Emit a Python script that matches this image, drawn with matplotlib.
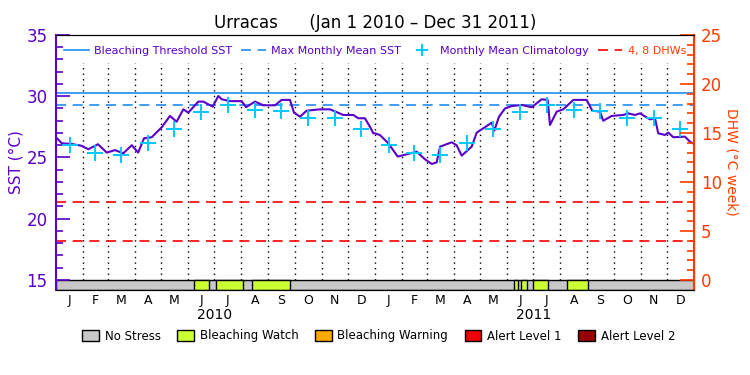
import numpy as np
import matplotlib
matplotlib.use('Agg')
import matplotlib.pyplot as plt
from matplotlib.lines import Line2D
from matplotlib.patches import Patch

# days since Jan 1 2010 and SST (deg C)
sst_day = [0, 6.5, 18, 29, 37, 48, 58, 67.5, 77, 86.6, 94, 100.7, 109.5, 121, 130.4, 138,
           145.7, 151.4, 162.8, 168.5, 179.3, 185.7, 189.6, 199, 212.5, 217.4, 227.7, 237.2,
           250.6, 258.2, 267.7, 272.3, 279.2, 286.8, 302, 313.5, 328.7, 340.2, 345.9, 353.5,
           359.3, 363, 365, 370.7, 380.2, 391, 403, 412.7, 422.2, 429.9, 435.6, 439.4, 452.7,
           458.4, 464.2, 475.6, 481.4, 490.8, 498.5, 501.5, 506.9, 513.7, 521.4, 532.8, 544.3,
           555.7, 562.6, 565.2, 572.9, 580.4, 591.9, 607.2, 613.6, 622.4, 626.2, 635.8, 649.1,
           654.8, 662.5, 668.2, 679.6, 685.4, 689.1, 696.8, 700.6, 706.3, 719.7, 725.4, 730]
sst = [26.65, 26.16, 26.1, 25.96, 25.67, 26.08, 25.4, 25.6, 25.34, 26.0, 25.4, 26.57, 26.65,
       27.47, 28.39, 27.92, 28.93, 28.66, 29.56, 29.56, 29.15, 30.02, 29.75, 29.6, 29.6, 29.1,
       29.56, 29.26, 29.26, 29.7, 29.7, 28.66, 28.33, 28.82, 28.93, 28.93, 28.47, 28.47, 28.2,
       28.2, 27.5, 26.97, 26.97, 26.83, 26.16, 25.07, 25.29, 25.47, 24.85, 24.47, 24.6, 25.88,
       26.24, 26.0, 25.15, 25.88, 27.03, 27.47, 27.84, 27.19, 28.33, 29.0, 29.2, 29.29, 29.1,
       29.75, 29.7, 27.65, 28.74, 28.93, 29.7, 29.7, 28.82, 28.74, 28.0, 28.39, 28.47, 28.6,
       28.47, 28.6, 28.11, 28.2, 26.97, 26.84, 27.03, 26.65, 26.7, 26.29, 26.1]

clim = [26.0, 25.4, 25.2, 26.2, 27.3, 28.7, 29.26, 28.85, 28.8, 28.25, 28.2, 27.3]
mmm = 29.26
threshold = 30.26
dhw_lines = [4, 8]

# bleaching watch periods (start day, end day)
watch = [(158.2, 175.1), (182.7, 214.3), (223.9, 268.2),
         (524.6, 528.6), (531.5, 538.9), (545.8, 562.9), (585.2, 609.3)]

months = ['J', 'F', 'M', 'A', 'M', 'J', 'J', 'A', 'S', 'O', 'N', 'D']
years = ['2010', '2011']

purple = '#5a00c8'
orange = '#ff3c00'
blue = '#1e8cf0'
cyan = '#00c8ff'

edges = np.arange('2010-01', '2012-02', dtype='datetime64[M]').astype('datetime64[D]')
edges = (edges - np.datetime64('2010-01-01')).astype(float)
mids = (edges[:-1] + edges[1:]) / 2

fig = plt.figure(figsize=(7.5, 3.75), dpi=100)
ax = fig.add_axes([0.0747, 0.2267, 0.8506, 0.68])
ylo = 14.18
ax.set_xlim(0, 730)
ax.set_ylim(ylo, 35)

# month lines
ax.vlines(edges[1:-1], 15, 32.7, colors='black', linestyles=(0, (1, 3)), linewidth=1)

ax.axhline(threshold, color=blue, lw=1.2)
ax.axhline(mmm, color=blue, lw=1.2, ls=(0, (6, 4)))
for d in dhw_lines:
    ax.axhline(15 + d / 1.25, color='red', lw=1.2, ls=(0, (6, 4)))

ax.plot(sst_day, sst, color=purple, lw=1.5)
ax.plot(mids, clim * 2, ls='none', marker='+', ms=11, mew=1.4, color=cyan)

# status bar
ax.broken_barh([(0, 730)], (ylo, 15 - ylo), facecolor='#c8c8c8', edgecolor='black', lw=1)
ax.broken_barh([(a, b - a) for a, b in watch], (ylo, 15 - ylo),
               facecolor='#ccff33', edgecolor='black', lw=1)

ax.set_xticks([])
ax.set_xticks(mids, minor=True)
ax.set_xticklabels(months * 2, minor=True, fontsize=9)
ax.tick_params(axis='x', which='minor', length=0, pad=3)
for i, y in enumerate(years):
    ax.text(mids[12 * i + 6] - 15, -0.1, y, transform=ax.get_xaxis_transform(),
            ha='center', va='center', fontsize=10)

ax.set_yticks([15, 20, 25, 30, 35])
ax.set_yticks(np.arange(15, 36, 1), minor=True)
ax.tick_params(axis='y', which='major', direction='in', length=10, width=1.2,
               colors=purple, labelsize=12, pad=6)
ax.tick_params(axis='y', which='minor', direction='in', length=5, width=1.2, colors=purple)
ax.spines['left'].set_color(purple)
ax.spines['left'].set_linewidth(1.5)
ax.set_ylabel('SST (°C)', color=purple, fontsize=11, labelpad=2)

ax2 = ax.twinx()
ax2.set_ylim(1.25 * (ylo - 15), 25)
ax2.set_yticks([0, 5, 10, 15, 20, 25])
ax2.set_yticks(np.arange(0, 26, 1), minor=True)
ax2.tick_params(axis='y', which='major', direction='in', length=10, width=1.2,
                colors=orange, labelsize=12, pad=5)
ax2.tick_params(axis='y', which='minor', direction='in', length=5, width=1.2, colors=orange)
ax2.spines['right'].set_color(orange)
ax2.spines['right'].set_linewidth(1.5)
ax2.spines['left'].set_visible(False)
fig.text(0.976, 0.567, 'DHW (°C week)', color=orange, fontsize=10, rotation=270,
         ha='center', va='center')

fig.text(0.5, 0.94, 'Urracas      (Jan 1 2010 \u2013 Dec 31 2011)', ha='center',
         va='center', fontsize=12)

handles = [Line2D([], [], color=blue, lw=1.2),
           Line2D([], [], color=blue, lw=1.2, ls=(0, (6, 4))),
           Line2D([], [], color=cyan, ls='none', marker='+', ms=9, mew=1.4),
           Line2D([], [], color='red', lw=1.2, ls=(0, (6, 4)))]
labels = ['Bleaching Threshold SST', 'Max Monthly Mean SST',
          'Monthly Mean Climatology', '4, 8 DHWs']
leg = ax.legend(handles, labels, loc='upper center', bbox_to_anchor=(0.5, 0.995), ncol=4,
                frameon=False, fontsize=8, handlelength=2.2, columnspacing=0.8,
                handletextpad=0.5)
for t, c in zip(leg.get_texts(), [purple, purple, purple, orange]):
    t.set_color(c)

status_h = [Patch(facecolor=c, edgecolor='black') for c in
            ['#c8c8c8', '#ccff33', '#ffaa00', '#ee0000', '#990000']]
status_l = ['No Stress', 'Bleaching Watch', 'Bleaching Warning', 'Alert Level 1', 'Alert Level 2']
fig.legend(status_h, status_l, loc='center', bbox_to_anchor=(0.505, 0.104), ncol=5,
           frameon=False, fontsize=8.5, handlelength=1.4, handleheight=1.1,
           columnspacing=1.4, handletextpad=0.5)

fig.savefig('out.png', dpi=100)
